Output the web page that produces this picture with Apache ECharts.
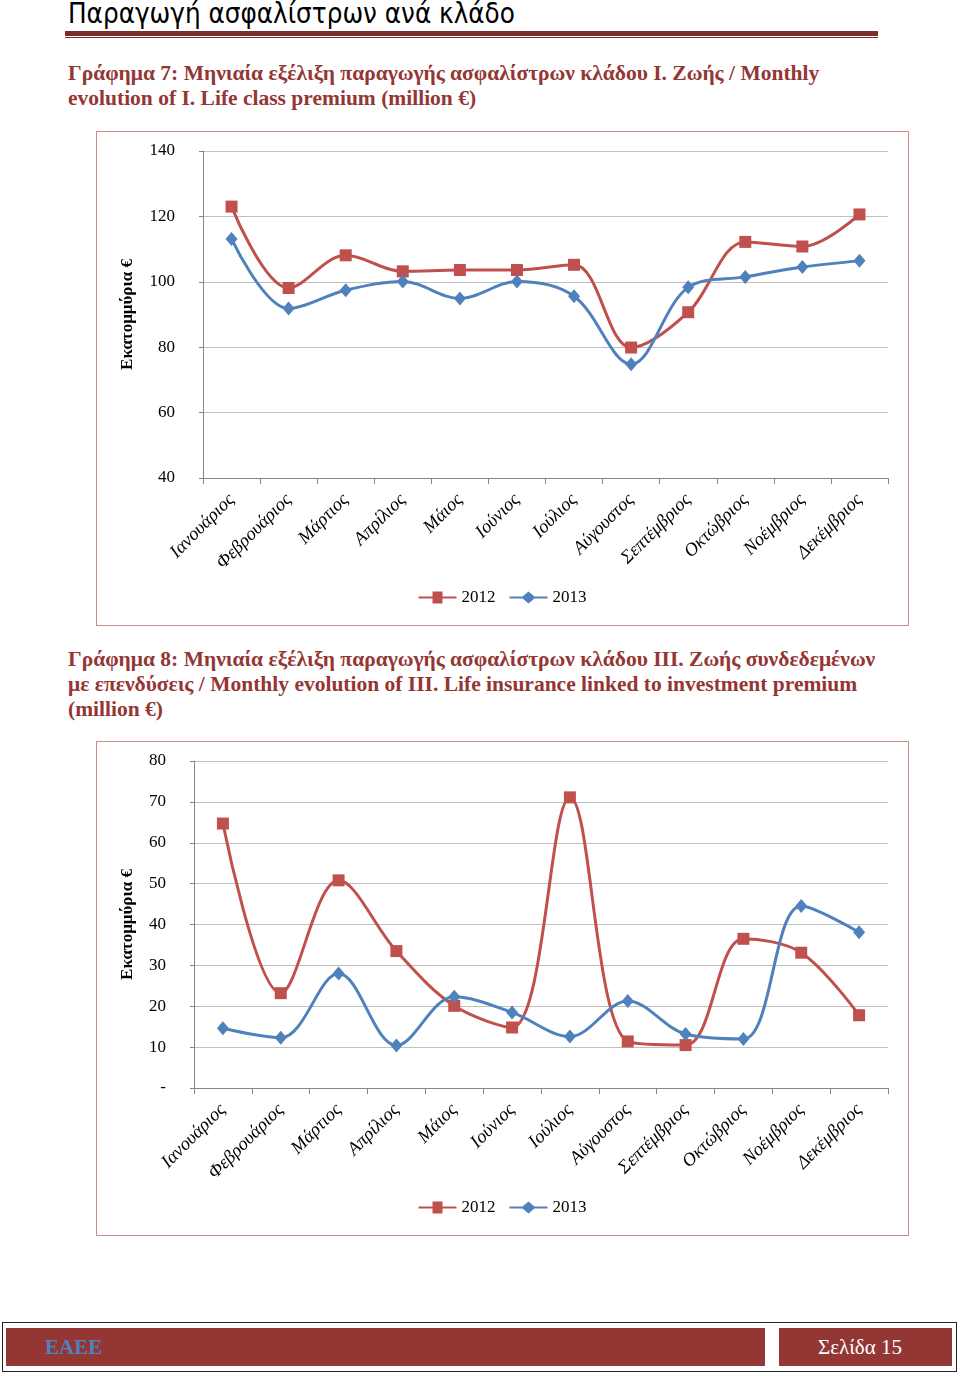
<!DOCTYPE html>
<html>
<head>
<meta charset="utf-8">
<script src="https://cdn.jsdelivr.net/npm/echarts@6/dist/echarts.min.js"></script>
<style>
  html, body { margin:0; padding:0; background:#fff; width:960px; height:1376px; overflow:hidden; }
  .abs { position:absolute; }
  #hdr { left:68px; top:-3px; font-family:"Liberation Sans Narrow","DejaVu Sans Condensed",sans-serif; font-size:27.5px; color:#000; white-space:nowrap; }
  #rule1 { left:65px; top:31px; width:813px; height:5px; background:#7b2c2c; }
  #rule2 { left:65px; top:37px; width:813px; height:1px; background:#7b2c2c; }
  .ctitle { left:68px; font-family:"Liberation Serif","Times New Roman",serif; font-weight:bold; font-size:21.5px; line-height:25px; color:#943634; white-space:nowrap; }
  .cbox { left:96px; width:811px; height:493px; border:1px solid #d08a88; }
  #footOuter { left:2px; top:1322px; width:953px; height:48px; border:1px solid #222; }
  #footA { left:6px; top:1328px; width:759px; height:38px; background:#943634; }
  #footB { left:779px; top:1328px; width:173px; height:38px; background:#943634; }
  #footA span { position:absolute; left:39px; top:7px; font-family:"Liberation Serif",serif; font-weight:bold; font-size:21px; color:#4f81bd; }
  #footB span { position:absolute; left:39px; top:7px; font-family:"Liberation Serif",serif; font-size:21px; color:#fff; }
</style>
</head>
<body>
<div id="hdr" class="abs">Παραγωγή ασφαλίστρων ανά κλάδο</div>
<div id="rule1" class="abs"></div>
<div id="rule2" class="abs"></div>

<div class="abs ctitle" style="top:61px;">Γράφημα 7: Μηνιαία εξέλιξη παραγωγής ασφαλίστρων κλάδου Ι. Ζωής / Monthly<br>evolution of I. Life class premium (million €)</div>
<div id="c1" class="abs cbox" style="top:131px;"></div>

<div class="abs ctitle" style="top:647px;">Γράφημα 8: Μηνιαία εξέλιξη παραγωγής ασφαλίστρων κλάδου ΙΙΙ. Ζωής συνδεδεμένων<br>με επενδύσεις / Monthly evolution of III. Life insurance linked to investment premium<br>(million €)</div>
<div id="c2" class="abs cbox" style="top:741px;"></div>

<div id="footOuter" class="abs"></div>
<div id="footA" class="abs"><span>ΕΑΕΕ</span></div>
<div id="footB" class="abs"><span>Σελίδα 15</span></div>

<script>
const months = ["Ιανουάριος","Φεβρουάριος","Μάρτιος","Απρίλιος","Μάιος","Ιούνιος","Ιούλιος","Αύγουστος","Σεπτέμβριος","Οκτώβριος","Νοέμβριος","Δεκέμβριος"];
const seriesNames = ["2012","2013"];
const life2012 = [123.0, 98.1, 108.1, 103.2, 103.6, 103.6, 105.2, 79.9, 90.7, 112.2, 110.8, 120.6];
const life2013 = [113.1, 91.8, 97.4, 100.1, 94.9, 100.1, 95.6, 74.8, 98.3, 101.5, 104.5, 106.4];
const linked2012 = [64.7, 23.2, 50.8, 33.5, 20.1, 14.8, 71.1, 11.4, 10.5, 36.5, 33.1, 17.8];
const linked2013 = [14.6, 12.3, 28.0, 10.4, 22.3, 18.5, 12.6, 21.3, 13.2, 12.0, 44.5, 38.1];
const yAxisName = "Εκατομμύρια €";

const RED = "#c0504d", BLUE = "#4f81bd";
const SERIF = "'Liberation Serif', 'Times New Roman', serif";

function makeOption(a, b, yCfg, gridLeft, nameGap) {
  return {
    animation: false,
    textStyle: { fontFamily: SERIF },
    grid: { left: gridLeft, right: 20, top: 19, bottom: 147 },
    legend: {
      bottom: 14, left: 'center', itemWidth: 38, itemHeight: 12, itemGap: 14,
      textStyle: { fontFamily: SERIF, fontSize: 17, color: '#000' },
      data: [
        { name: seriesNames[0], icon: 'path://M0,5 L14,5 L14,0 L24,0 L24,5 L38,5 L38,7 L24,7 L24,12 L14,12 L14,7 L0,7 Z' },
        { name: seriesNames[1], icon: 'path://M0,5 L13,5 L19,0 L25,5 L38,5 L38,7 L25,7 L19,12 L13,7 L0,7 Z' }
      ]
    },
    xAxis: {
      type: 'category', data: months, boundaryGap: true,
      axisLine: { lineStyle: { color: '#868686', width: 1 } },
      axisTick: { show: true, length: 6, alignWithLabel: false, lineStyle: { color: '#868686' } },
      axisLabel: { rotate: 45, interval: 0, fontFamily: SERIF, fontStyle: 'italic', fontSize: 18.5, color: '#000', margin: 19 }
    },
    yAxis: Object.assign({
      type: 'value',
      name: yAxisName, nameLocation: 'middle', nameGap: nameGap, nameRotate: 90,
      nameTextStyle: { fontFamily: SERIF, fontWeight: 'bold', fontSize: 17, color: '#000' },
      axisLine: { show: true, lineStyle: { color: '#868686' } },
      axisTick: { show: true, length: 4, lineStyle: { color: '#868686' } },
      splitLine: { lineStyle: { color: '#c0c0c0', width: 1 } },
      axisLabel: { fontFamily: SERIF, fontSize: 17, color: '#000', margin: 28 }
    }, yCfg),
    series: [
      { name: seriesNames[0], type: 'line', data: a, smooth: 0.35, symbol: 'rect', symbolSize: 12,
        lineStyle: { color: RED, width: 3 }, itemStyle: { color: RED } },
      { name: seriesNames[1], type: 'line', data: b, smooth: 0.35, symbol: 'diamond', symbolSize: [12, 14],
        lineStyle: { color: BLUE, width: 3 }, itemStyle: { color: BLUE } }
    ]
  };
}

const c1 = echarts.init(document.getElementById('c1'), null, { renderer: 'canvas' });
c1.setOption(makeOption(life2012, life2013, { min: 40, max: 140, interval: 20 }, 106, 67));

const c2 = echarts.init(document.getElementById('c2'), null, { renderer: 'canvas' });
c2.setOption(makeOption(linked2012, linked2013, {
  min: 0, max: 80, interval: 10,
  axisLabel: { fontFamily: SERIF, fontSize: 17, color: '#000', margin: 28, formatter: v => v === 0 ? '-' : String(v) }
}, 97, 58));
</script>
</body>
</html>
